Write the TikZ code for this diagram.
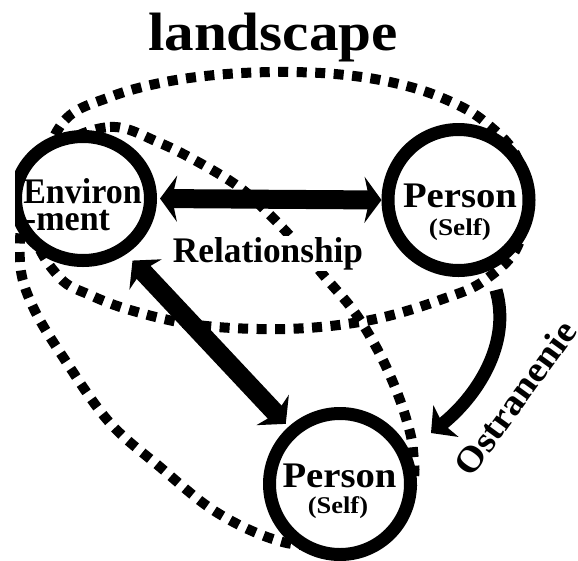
\documentclass[tikz,border=0pt]{standalone}
\usepackage{fontspec}
\setmainfont{Liberation Serif}
\usetikzlibrary{arrows.meta,calc,shapes.geometric}

\begin{document}
\begin{tikzpicture}[x=1pt,y=-1pt,
  ring/.style={circle,draw=black,fill=white,line width=13pt,inner sep=0pt},
  dotloop/.style={draw=black,line width=10pt,dash pattern=on 10pt off 8.5pt},
  word/.style={inner sep=0pt,anchor=base,font=\fontsize{36pt}{40pt}\selectfont\bfseries},
  smallword/.style={inner sep=0pt,anchor=base,font=\fontsize{24pt}{28pt}\selectfont\bfseries},
  link/.style={draw=black,line width=19pt},
]
\useasboundingbox (0,0) rectangle (578,560);
\clip (15,0) rectangle (578,560);

% heading
\node[inner sep=0pt,anchor=base,font=\fontsize{54pt}{60pt}\selectfont\bfseries] (title) at (273,50) {\scalebox{1.096}[1]{landscape}};

% dotted loop around Environment and the upper Person
\draw[dotloop] plot[smooth cycle, tension=0.6] coordinates {
  (40,175) (65,120) (110,97) (160,83) (215,75) (275,72) (335,74) (390,82)
  (440,97) (485,122) (520,165) (520,240) (485,280) (440,300) (380,318)
  (320,327) (258,329) (190,324) (130,310) (90,295) (60,278) (35,235)};

% dotted loop around Environment and the lower Person
\draw[dotloop] plot[smooth cycle, tension=0.6] coordinates {
  (55,150) (110,127) (160,143) (207,167) (243,190) (273,218) (300,247)
  (325,277) (353,310) (375,345) (392,380) (405,415) (413,450) (410,490)
  (370,535) (310,545) (267,537) (213,510) (160,467) (110,423) (67,363)
  (33,307) (20,262) (26,205)};

% the three circles
\node[ring, ellipse, minimum width=135pt, minimum height=124pt] (env) at (83,198.5) {};
\node[ring, minimum size=141pt] (pt) at (458.5,200) {};
\node[ring, minimum size=141pt] (pb) at (340,484) {};

% circle labels
\node[word] (envA) at ($(env)+(-0.5,4.5)$) {\scalebox{0.944}[1]{Environ}};
\node[word] (envB) at ($(env)+(-15.5,31.5)$) {\scalebox{0.945}[1]{-ment}};
\node[word] (ptA) at ($(pt)+(1.5,7)$) {\scalebox{1.075}[1]{Person}};
\node[smallword] (ptB) at ($(pt)+(1.5,35)$) {\scalebox{1.135}[1]{(Self)}};
\node[word] (pbA) at ($(pb)+(-0.5,3)$) {\scalebox{1.075}[1]{Person}};
\node[smallword] (pbB) at ($(pb)+(-2,29)$) {\scalebox{1.1}[1]{(Self)}};

\node[word, fill=white, inner sep=1pt] (rel) at (268,262) {\scalebox{0.98}[1]{Relationship}};

% connectors
\draw[link, arrows={Stealth[length=17pt,width=46pt,inset=5pt]-Stealth[length=17pt,width=46pt,inset=5pt]},
  shorten <=3pt] (env.east) -- (pt.west);
\draw[link, arrows={Stealth[length=19pt,width=44pt,inset=5pt]-Stealth[length=19pt,width=44pt,inset=5pt]},
  shorten <=9pt, shorten >=4pt] (env.-52) -- (pb.132);

\coordinate (ostart) at (496,290);
\coordinate (oend) at (431,433);
\draw[draw=black, line width=13pt, arrows={-Stealth[length=19pt,width=40pt,inset=4pt]}]
  (ostart) .. controls (512,345) and (475,398) .. (oend);
\node[word, anchor=center, rotate=54] (ostr) at (515,398) {\scalebox{1.07}[1]{Ostranenie}};
\end{tikzpicture}
\end{document}
